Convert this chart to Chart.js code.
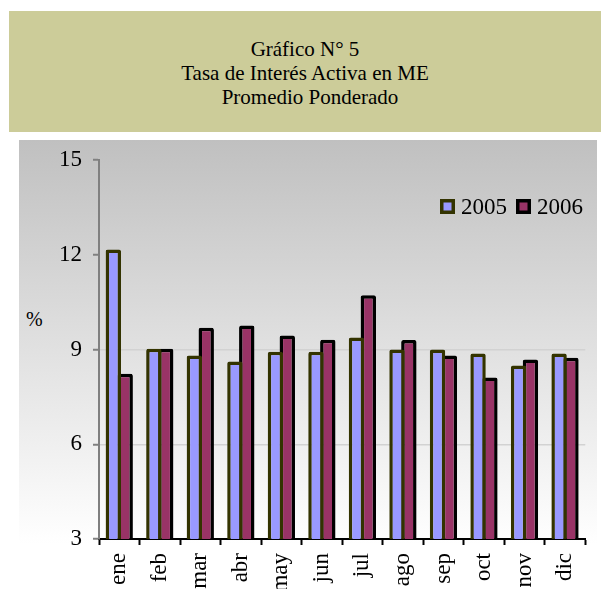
<!DOCTYPE html>
<html><head><meta charset="utf-8">
<script src="https://cdn.jsdelivr.net/npm/chart.js@4"></script>
<style>
html,body{margin:0;padding:0;background:#fff;width:601px;height:589px;overflow:hidden;}
#title{position:absolute;left:9px;top:11px;width:592px;height:121px;background:#CCCC99;}
#title div{position:absolute;left:0;width:592px;text-align:center;font:21px "Liberation Serif";line-height:24px;color:#000;white-space:nowrap;}
#bg{position:absolute;left:19px;top:140px;width:578px;height:449px;background:linear-gradient(to bottom,#c0c0c0 0%,#ffffff 90%);}
#pct{position:absolute;left:26px;top:307px;font:20px "Liberation Serif";line-height:24px;color:#000;}
#wrap{position:absolute;left:0;top:0;width:601px;height:589px;}
</style></head>
<body>
<div id="title">
  <div style="top:26px">Gráfico N° 5</div>
  <div style="top:50px">Tasa de Interés Activa en ME</div>
  <div style="top:74px;left:5px">Promedio Ponderado</div>
</div>
<div id="bg"></div>
<div id="pct">%</div>
<div id="wrap"><canvas id="c" width="601" height="589"></canvas></div>
<script>
const categories = ['ene','feb','mar','abr','may','jun','jul','ago','sep','oct','nov','dic'];
const seriesLabels = ['2005','2006'];
const series2005 = [12.17, 9.02, 8.81, 8.62, 8.93, 8.93, 9.38, 9.0, 9.0, 8.87, 8.49, 8.87];
const series2006 = [8.23, 9.02, 9.69, 9.76, 9.44, 9.31, 10.72, 9.3, 8.81, 8.11, 8.68, 8.74];
const yTicks = [3, 6, 9, 12, 15];

const legendPlugin = {
  id: 'customLegend',
  afterDraw(chart) {
    const ctx = chart.ctx;
    ctx.save();
    ctx.font = '23px "Liberation Serif"';
    ctx.textBaseline = 'middle';
    let x = 440;
    const yc = 206.5;
    chart.data.datasets.forEach(ds => {
      const s = 15;
      ctx.fillStyle = ds.borderColor;
      ctx.fillRect(x, yc - s / 2, s, s);
      ctx.fillStyle = ds.backgroundColor;
      ctx.fillRect(x + 3.5, yc - s / 2 + 3.5, s - 7, s - 7);
      x += s + 6;
      ctx.fillStyle = '#000';
      ctx.fillText(ds.label, x, yc + 1);
      x += ctx.measureText(ds.label).width + 9;
    });
    ctx.restore();
  }
};

new Chart(document.getElementById('c'), {
  type: 'bar',
  data: {
    labels: categories,
    datasets: [
      { label: seriesLabels[0], data: series2005, backgroundColor: '#9999FF', borderColor: '#333300', borderWidth: 3.5, borderRadius: 2 },
      { label: seriesLabels[1], data: series2006, backgroundColor: '#993366', borderColor: '#000000', borderWidth: 3.5, borderRadius: 2 }
    ]
  },
  options: {
    responsive: false,
    animation: false,
    datasets: { bar: { categoryPercentage: 0.585, barPercentage: 1.3 } },
    layout: { padding: { left: 0, top: 160, right: 9, bottom: 0 } },
    plugins: { legend: { display: false }, tooltip: { enabled: false } },
    scales: {
      x: {
        grid: { offset: true, drawOnChartArea: false, drawTicks: true, tickLength: 6, tickColor: '#000', tickWidth: 2 },
        border: { color: '#000', width: 2 },
        ticks: { minRotation: 90, maxRotation: 90, padding: 8, color: '#000', font: { family: 'Liberation Serif', size: 23 } },
        afterFit(s) { s.height = 50; }
      },
      y: {
        min: 3, max: 15,
        afterBuildTicks(s) { s.ticks = yTicks.map(v => ({ value: v })); },
        grid: {
          color: c => (c.tick && (c.tick.value === 6 || c.tick.value === 9 || c.tick.value === 12)) ? '#d2d2d2' : 'rgba(0,0,0,0)',
          lineWidth: 1.5, drawTicks: true, tickLength: 6, tickColor: '#808080', tickWidth: 2
        },
        border: { color: '#808080', width: 2 },
        ticks: { padding: 11, color: '#000', font: { family: 'Liberation Serif', size: 23 } },
        afterFit(s) { s.width = 99; }
      }
    }
  },
  plugins: [legendPlugin]
});
</script>
</body></html>
